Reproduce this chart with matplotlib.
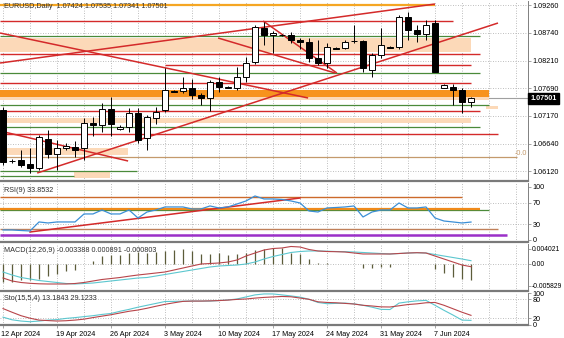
import matplotlib
matplotlib.use("Agg")
import matplotlib.pyplot as plt
import matplotlib.transforms as mtrans

plt.rcParams['font.family'] = ['Liberation Sans', 'DejaVu Sans']

# ---------------- data ----------------
bar_idx = list(range(53))
opens = [1.07281, 1.06317, 1.06336, 1.06260, 1.06185, 1.06733, 1.06449, 1.06563, 1.06582, 1.06563,
         1.07035, 1.06997, 1.07300, 1.06922, 1.06960, 1.07224, 1.06752, 1.07130, 1.07281, 1.07640,
         1.07640, 1.07697, 1.07565, 1.07508, 1.07810, 1.07706, 1.07697, 1.07905, 1.08188, 1.08831,
         1.08699, 1.08699, 1.08699, 1.08604, 1.08566, 1.08264, 1.08169, 1.08453, 1.08453, 1.08585,
         1.08585, 1.08037, 1.08321, 1.08472, 1.08472, 1.09039, 1.08793, 1.08718, 1.08925, 1.07697,
         1.07716, 1.07659, 1.07424]
highs = [1.07338, 1.06355, 1.06525, 1.06563, 1.06809, 1.06903, 1.06714, 1.06657, 1.06695, 1.07130,
         1.07149, 1.07413, 1.07527, 1.06997, 1.07319, 1.07319, 1.07186, 1.07338, 1.08075, 1.07659,
         1.07905, 1.07867, 1.07602, 1.07848, 1.07905, 1.07735, 1.08094, 1.08283, 1.08888, 1.08944,
         1.08774, 1.08718, 1.08755, 1.08642, 1.08642, 1.08604, 1.08547, 1.08472, 1.08604, 1.08888,
         1.08604, 1.08358, 1.08831, 1.08491, 1.09077, 1.09133, 1.08888, 1.08982, 1.08982, 1.07772,
         1.07772, 1.07697, 1.07535]
lows = [1.06241, 1.06279, 1.06204, 1.06090, 1.06147, 1.06374, 1.06147, 1.06525, 1.06393, 1.06336,
        1.06790, 1.06865, 1.06790, 1.06903, 1.06865, 1.06657, 1.06525, 1.07016, 1.07243, 1.07621,
        1.07602, 1.07489, 1.07376, 1.07262, 1.07621, 1.07697, 1.07659, 1.07810, 1.08150, 1.08510,
        1.08358, 1.08680, 1.08547, 1.08434, 1.08188, 1.08132, 1.08075, 1.08434, 1.08434, 1.08547,
        1.07999, 1.07905, 1.08264, 1.08453, 1.08434, 1.08604, 1.08566, 1.08604, 1.07999, 1.07697,
        1.07376, 1.07224, 1.07341]
closes = [1.06298, 1.06308, 1.06241, 1.06185, 1.06771, 1.06449, 1.06563, 1.06601, 1.06525, 1.07035,
          1.06997, 1.07300, 1.07016, 1.06960, 1.07224, 1.06714, 1.07149, 1.07243, 1.07659, 1.07630,
          1.07697, 1.07565, 1.07508, 1.07810, 1.07716, 1.07716, 1.07905, 1.08169, 1.08850, 1.08699,
          1.08736, 1.08690, 1.08604, 1.08566, 1.08264, 1.08169, 1.08472, 1.08443, 1.08566, 1.08576,
          1.08075, 1.08321, 1.08510, 1.08462, 1.09039, 1.08793, 1.08718, 1.08888, 1.07999, 1.07753,
          1.07659, 1.07432, 1.07501]

date_pos = [0, 6, 12, 18, 24, 30, 36, 42, 48]
date_labels = ['12 Apr 2024', '19 Apr 2024', '26 Apr 2024', '3 May 2024', '10 May 2024',
               '17 May 2024', '24 May 2024', '31 May 2024', '7 Jun 2024']
price_ticks = [1.0926, 1.0874, 1.0821, 1.0769, 1.0717, 1.0664, 1.0612]
last_price = 1.07501

# horizontal objects on the price chart
orange_lines = [1.09266]
red_levels = [1.08963, 1.08340, 1.08132, 1.07791, 1.07262, 1.06828]
green_levels = [1.08680, 1.07980, 1.07376, 1.06960, 1.06128, 1.06034]
fib_level = [1.06393]
orange_band = [(1.07659, 1.07527)]
peach_bands = [(1.08642, 1.08377), (1.07527, 1.07470), (1.07357, 1.07300),
               (1.07130, 1.07035), (1.06563, 1.06430), (1.06109, 1.05996)]
# trend lines: (bar0, price0, bar1, price1)
trend_lines = [(-0.33, 1.08736, 33.9, 1.07508),
               (-0.33, 1.08169, 48.0, 1.09284),
               (-0.33, 1.06884, 13.9, 1.06317),
               (3.8, 1.06090, 55.0, 1.08925),
               (28.9, 1.08963, 37.1, 1.07980),
               (23.9, 1.08642, 36.9, 1.07980)]

rsi = [18.9, 18.9, 17.9, 17.0, 34.0, 32.1, 34.0, 34.0, 34.0, 49.1,
       49.1, 56.6, 49.1, 49.1, 56.6, 41.5, 52.8, 56.6, 62.3, 62.3,
       62.3, 58.5, 58.5, 64.2, 60.4, 62.3, 67.9, 73.6, 83.0, 77.4,
       77.4, 76.4, 73.6, 69.8, 54.7, 52.8, 60.4, 61.3, 62.3, 64.2,
       43.4, 52.8, 56.6, 56.6, 69.8, 60.4, 60.4, 62.3, 41.5, 35.8,
       34.0, 32.1, 33.85]
rsi_levels = [81.0, 58.5, 56.6, 20.8, 9.4]
rsi_trend = (3.0, 15.1, 33.0, 79.2)

macd_hist = [-0.00467, -0.00467, -0.00427, -0.00427, -0.00387, -0.00333, -0.00267, -0.00200, -0.00147, 0.0,
             0.00088, 0.00213, 0.00240, 0.00240, 0.00285, 0.00328, 0.00301, 0.00328, 0.00355, 0.00373,
             0.00392, 0.00355, 0.00267, 0.00267, 0.00285, 0.00240, 0.00267, 0.00301, 0.00373, 0.00400,
             0.00419, 0.00419, 0.00301, 0.00267, 0.00125, 0.00035, 0.00019, 0.0, 0.0, 0.0,
             -0.00115, -0.00115, -0.00093, -0.00093, 0.0, 0.00005, 0.0, 0.0, -0.00141, -0.00248,
             -0.00339, -0.00408, -0.00427]
macd_red = [-0.00373, -0.00453, -0.00493, -0.00515, -0.00528, -0.00533, -0.00533, -0.00533, -0.00520, -0.00493,
            -0.00453, -0.00413, -0.00387, -0.00360, -0.00325, -0.00293, -0.00267, -0.00240, -0.00213, -0.00160,
            -0.00107, -0.00053, 0.0, 0.00013, 0.00027, 0.00053, 0.00107, 0.00213, 0.00293, 0.00373,
            0.00413, 0.00427, 0.00467, 0.00453, 0.00387, 0.00347, 0.00333, 0.00328, 0.00320, 0.00293,
            0.00267, 0.00267, 0.00267, 0.00267, 0.00280, 0.00293, 0.00301, 0.00293, 0.00213, 0.00133,
            0.00053, -0.00027, -0.00072]
macd_cyan = [-0.00213, -0.00293, -0.00360, -0.00400, -0.00440, -0.00467, -0.00493, -0.00520, -0.00533, -0.00520,
             -0.00507, -0.00480, -0.00453, -0.00427, -0.00400, -0.00373, -0.00360, -0.00320, -0.00280, -0.00240,
             -0.00200, -0.00160, -0.00120, -0.00080, -0.00053, -0.00040, -0.00027, 0.0, 0.00053, 0.00133,
             0.00200, 0.00253, 0.00307, 0.00333, 0.00347, 0.00347, 0.00341, 0.00333, 0.00328, 0.00320,
             0.00307, 0.00293, 0.00280, 0.00267, 0.00280, 0.00293, 0.00301, 0.00293, 0.00253, 0.00213,
             0.00173, 0.00133, 0.00088]
macd_ticks = [0.004021, 0.0, -0.005829]
macd_tick_labels = ['0.004021', '0.00', '-0.005829']

sto_main = [23.4, 15.0, 11.0, 8.8, 11.0, 14.0, 15.6, 19.4, 21.9, 25.0,
            28.0, 32.0, 35.0, 42.0, 48.0, 55.0, 61.0, 67.0, 73.0, 73.4,
            74.0, 74.4, 74.4, 74.4, 76.0, 78.0, 81.0, 87.5, 94.0, 97.0,
            97.0, 94.0, 90.6, 87.0, 80.0, 70.0, 66.0, 67.0, 68.0, 65.6,
            61.0, 55.0, 48.0, 47.5, 68.0, 72.0, 75.0, 76.6, 61.0, 45.0,
            30.0, 14.0, 13.18]
sto_signal = [50.6, 39.0, 28.0, 20.0, 14.0, 12.5, 11.0, 12.0, 14.0, 17.0,
              22.0, 26.6, 31.0, 36.6, 42.0, 46.0, 51.6, 58.0, 64.0, 69.0,
              73.4, 74.4, 74.4, 75.0, 76.0, 77.5, 79.7, 81.0, 83.8, 86.0,
              87.5, 89.0, 88.0, 84.0, 80.0, 72.0, 70.0, 69.0, 67.0, 65.0,
              61.0, 58.8, 56.0, 55.6, 59.4, 63.4, 65.6, 69.0, 70.0, 61.0,
              50.0, 39.0, 29.12]

# ---------------- figure ----------------
W, H = 564, 338
fig = plt.figure(figsize=(W / 100, H / 100), dpi=100)
fig.patch.set_facecolor('white')


def pxbox(x0, y0, x1, y1):
    return [x0 / W, 1 - y1 / H, (x1 - x0) / W, (y1 - y0) / H]


XL = (-1 / 3, 525 / 9)
grid_x = list(range(0, 58, 3))
DOT = (0, (1, 2))
GRIDC = '#a8a8a8'
RED = '#d42a2a'
GREEN = '#4a8a3a'
PEACH = '#fcd9b8'
ORANGE = '#f7931e'
TAN = '#c49a6c'
FS = 5.2

ax = fig.add_axes(pxbox(0, 1, 528, 181))
ax_rsi = fig.add_axes(pxbox(0, 183, 528, 242))
ax_macd = fig.add_axes(pxbox(0, 244, 528, 291))
ax_sto = fig.add_axes(pxbox(0, 293, 528, 325))

for a in (ax, ax_rsi, ax_macd, ax_sto):
    a.set_xlim(*XL)
    a.set_facecolor('white')
    for s in ('top', 'left'):
        a.spines[s].set_visible(False)
    a.spines['right'].set_color('#808080')
    a.spines['right'].set_linewidth(0.7)
    a.spines['bottom'].set_color('#7a7a7a')
    a.spines['bottom'].set_linewidth(1.6)
    a.set_xticks(grid_x, minor=True)
    a.grid(axis='x', which='both', linestyle=DOT, color=GRIDC, linewidth=0.6, zorder=0)
    a.yaxis.tick_right()
    a.tick_params(axis='y', length=2, width=0.5, pad=1.2, labelsize=FS, colors='#808080',
                  labelcolor='black')
    a.tick_params(axis='x', which='minor', length=0)
    a.set_axisbelow(True)

for a in (ax, ax_rsi, ax_macd):
    a.set_xticks(date_pos)
    a.tick_params(axis='x', which='major', length=0, labelbottom=False)

# ---------------- main price chart ----------------
ax.set_ylim(1.05939, 1.09341)
ax.set_yticks(price_ticks)
ax.set_yticklabels([f'{p:.5f}' for p in price_ticks])
ax.grid(axis='y', linestyle=DOT, color=GRIDC, linewidth=0.6, zorder=0)

# bid line
ax.axhline(last_price, color='#a0a0a0', linewidth=0.8, zorder=1)

# bands
band_ext = [(-0.33, 52), (-0.33, 54), (53.7, 55), (-0.33, 52), (0.2, 13.9), (7.9, 11.9)]
for (top, bot), (x0, x1) in zip(peach_bands, band_ext):
    ax.fill_between([x0, x1], bot, top, color=PEACH, linewidth=0, zorder=1.2)
for (top, bot) in orange_band:
    ax.fill_between([-0.33, 54], bot, top, color=ORANGE, linewidth=0, zorder=1.3)

# horizontal lines
ax.hlines(orange_lines, -0.33, 48, color='#f5a623', linewidth=1.6, zorder=2)
red_ext = [(-0.33, 50), (-0.33, 53), (18, 52), (-0.33, 52), (-0.33, 53), (-0.33, 55)]
for p, (x0, x1) in zip(red_levels, red_ext):
    ax.hlines(p, x0, x1, color=RED, linewidth=1.0, zorder=2)
green_ext = [(-0.33, 53), (-0.33, 53), (-0.33, 54), (-0.33, 53), (-0.33, 14.9), (-0.33, 7.9)]
for p, (x0, x1) in zip(green_levels, green_ext):
    ax.hlines(p, x0, x1, color=GREEN, linewidth=0.9, zorder=2)
ax.hlines(fib_level, -0.33, 57.1, color=TAN, linewidth=0.9, zorder=2)
ax.text(58.2, fib_level[0] + 0.00008, '-0.0', color=TAN, fontsize=FS, ha='right', va='bottom', zorder=5)

for (x0, p0, x1, p1) in trend_lines:
    ax.plot([x0, x1], [p0, p1], color=RED, linewidth=1.1, zorder=2.5, solid_capstyle='butt')

# candles
for i, o, h, l, c in zip(bar_idx, opens, highs, lows, closes):
    ax.vlines(i, l, h, color='black', linewidth=0.7, zorder=3)
bw = 0.64
up = [c >= o for o, c in zip(opens, closes)]
ax.bar(bar_idx, [c - o for o, c in zip(opens, closes)], bottom=opens, width=bw,
       color=['white' if u else 'black' for u in up], edgecolor='black', linewidth=0.7, zorder=4)

ax.text(1.004, last_price, f'{last_price:.5f}', transform=ax.get_yaxis_transform(),
        fontsize=FS, color='white', fontweight='bold', ha='left', va='center', zorder=6,
        bbox=dict(boxstyle='square,pad=0.3', facecolor='black', edgecolor='black'), clip_on=False)

fig.text(4 / W, 1 - 6.5 / H, 'EURUSD,Daily  1.07424 1.07535 1.07341 1.07501', fontsize=FS,
         color='#303030', ha='left', va='center')

# ---------------- RSI ----------------
ax_rsi.set_ylim(-3.8, 107.5)
ax_rsi.set_yticks([100, 70, 30, 0])
ax_rsi.set_yticklabels(['100', '70', '30', '0'])
for lv in (70, 30):
    ax_rsi.axhline(lv, linestyle=DOT, color=GRIDC, linewidth=0.6, zorder=0)
rsi_cols = ['#cc6a2a', '#f08a1a', GREEN, '#c0805a', '#9b30c8']
rsi_ext = [51, 53, 54, 55, 56]
rsi_lw = [1.0, 1.6, 0.9, 1.0, 1.8]
order = [0, 2, 1, 3, 4]
for k in order:
    ax_rsi.hlines(rsi_levels[k], -0.33, rsi_ext[k], color=rsi_cols[k], linewidth=rsi_lw[k],
                  zorder=2 + (k == 1) * 0.5)
ax_rsi.plot([rsi_trend[0], rsi_trend[2]], [rsi_trend[1], rsi_trend[3]], color=RED, linewidth=1.1, zorder=3)
ax_rsi.plot(bar_idx, rsi, color='#3b8fd6', linewidth=0.9, zorder=4)
ax_rsi.text(4 / 528, 1 - 7 / 59, 'RSI(9) 33.8532', transform=ax_rsi.transAxes, fontsize=FS,
            color='#303030', ha='left', va='center')

# ---------------- MACD ----------------
ax_macd.set_ylim(-0.0072, 0.005333)
ax_macd.set_yticks(macd_ticks)
ax_macd.set_yticklabels(macd_tick_labels)
ax_macd.tick_params(axis='y', labelsize=4.9, pad=0.8)
ax_macd.axhline(0, linestyle=DOT, color=GRIDC, linewidth=0.6, zorder=0)
ax_macd.vlines(bar_idx, 0, macd_hist, color='#5c5c3a', linewidth=0.9, zorder=2)
ax_macd.plot(bar_idx, macd_cyan, color='#5cc7cf', linewidth=0.8, zorder=3)
ax_macd.plot(bar_idx, macd_red, color='#b8454a', linewidth=0.8, zorder=3)
ax_macd.text(4 / 528, 1 - 7 / 47, 'MACD(12,26,9) -0.003388 0.000891 -0.000803', transform=ax_macd.transAxes,
             fontsize=FS, color='#303030', ha='left', va='center')

# ---------------- Stochastic ----------------
ax_sto.set_ylim(-1.56, 98.4)
ax_sto.set_yticks([100, 80, 20, 0])
ax_sto.set_yticklabels(['100', '80', '20', '0'])
for lv in (80, 20):
    ax_sto.axhline(lv, linestyle=DOT, color=GRIDC, linewidth=0.6, zorder=0)
ax_sto.plot(bar_idx, sto_main, color='#5cc7cf', linewidth=0.8, zorder=3)
ax_sto.plot(bar_idx, sto_signal, color='#b8454a', linewidth=0.8, zorder=3)
ax_sto.text(4 / 528, 1 - 5 / 32, 'Sto(15,5,4) 13.1843 29.1233', transform=ax_sto.transAxes,
            fontsize=FS, color='#303030', ha='left', va='center')
ax_sto.set_xticks(date_pos)
ax_sto.set_xticklabels(date_labels)
ax_sto.tick_params(axis='x', which='major', length=2, width=0.5, pad=2, labelsize=FS,
                   colors='#808080', labelcolor='black')
for lbl in ax_sto.get_xticklabels():
    lbl.set_ha('left')
    lbl.set_transform(lbl.get_transform() + mtrans.ScaledTranslation(-1.5 / 100, 0, fig.dpi_scale_trans))

fig.savefig('out.png', dpi=100, facecolor='white')
